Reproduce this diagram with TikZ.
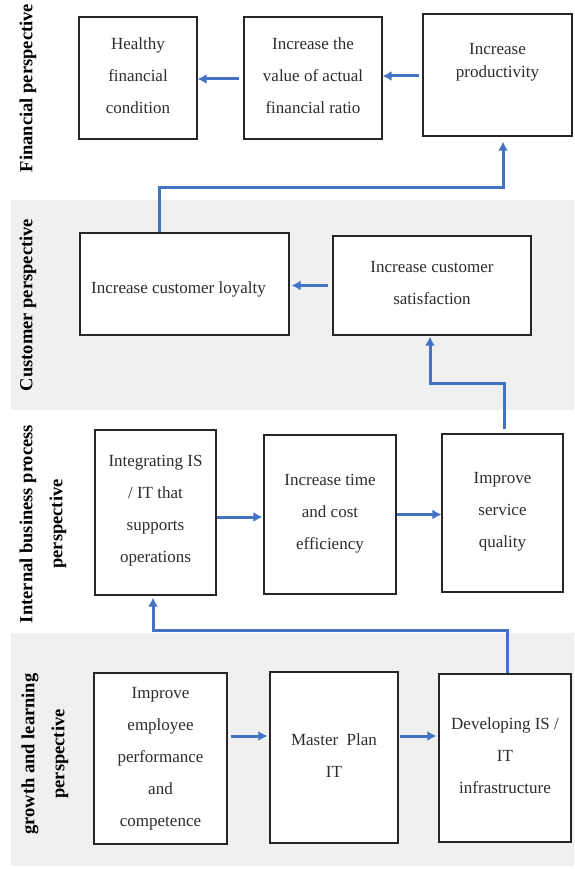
\documentclass[tikz,border=0pt]{standalone}
\usepackage{fontspec}
\setmainfont{Liberation Serif}
\usetikzlibrary{arrows.meta,calc}
\definecolor{arrowblue}{RGB}{68,114,196}
\definecolor{bandgray}{RGB}{240,240,240}
\definecolor{goalink}{RGB}{45,45,45}
\tikzset{
	goal/.style={draw=black!85,line width=1.2pt,fill=white,inner sep=0pt},
	goaltext/.style={align=center,text=goalink,font=\fontsize{17}{32}\selectfont,inner sep=0pt},
	persp/.style={rotate=90,align=center,font=\fontsize{18.5}{30}\selectfont\bfseries,inner sep=0pt},
	link/.style={draw=arrowblue,line width=3pt,-{Latex[length=9pt,width=10pt]}},
}

\begin{document}
\begin{tikzpicture}[x=1pt,y=-1pt]
	\useasboundingbox (0,0) rectangle (574,869);
	% grey bands behind customer and growth rows
	\fill[bandgray] (11,200) rectangle (574,410);
	\fill[bandgray] (11,633) rectangle (574,866);
	
	% perspective labels
	\node[persp] (finlab) at (28,88) {Financial perspective};
	\node[persp] (cuslab) at (28,305) {Customer perspective};
	\node[persp] (intlab) at (43,524) {Internal business process\\perspective};
	\node[persp] (grolab) at (45,754) {growth and learning\\perspective};
	
	% financial row
	\node[goal,minimum width=118pt,minimum height=122pt] (heal) at (138,78) {};
	\node[goaltext] at ([yshift=2pt]heal.center) {Healthy\\financial\\condition};
	\node[goal,minimum width=138pt,minimum height=122pt] (value) at (313,78) {};
	\node[goaltext] at ([yshift=2pt]value.center) {Increase the\\value of actual\\financial ratio};
	\node[goal,minimum width=149pt,minimum height=122pt] (prod) at (497.5,75) {};
	\node[goaltext,font=\fontsize{17}{23}\selectfont] at ([yshift=12.5pt]prod.center) {Increase\\productivity};
	
	% customer row
	\node[goal,minimum width=209pt,minimum height=102pt] (loyal) at (184.5,284) {};
	\node[goaltext] at ([xshift=-6pt,yshift=-5pt]loyal.center) {Increase customer loyalty};
	\node[goal,minimum width=198pt,minimum height=99pt] (satis) at (432,285.5) {};
	\node[goaltext] at ([yshift=2.5pt]satis.center) {Increase customer\\satisfaction};
	
	% internal business process row
	\node[goal,minimum width=121pt,minimum height=165pt] (integ) at (155.5,512.5) {};
	\node[goaltext] at ([yshift=1.5pt]integ.center) {Integrating IS\\/ IT that\\supports\\operations};
	\node[goal,minimum width=132pt,minimum height=159pt] (time) at (330,514.5) {};
	\node[goaltext] at ([yshift=1pt]time.center) {Increase time\\and cost\\efficiency};
	\node[goal,minimum width=121pt,minimum height=158pt] (serv) at (502.5,513) {};
	\node[goaltext] at ([yshift=1.5pt]serv.center) {Improve\\service\\quality};
	
	% growth and learning row
	\node[goal,minimum width=133pt,minimum height=171pt] (empl) at (160.5,758.5) {};
	\node[goaltext] at ([yshift=0pt]empl.center) {Improve\\employee\\performance\\and\\competence};
	\node[goal,minimum width=128pt,minimum height=171pt] (plan) at (334,757.5) {};
	\node[goaltext] at ([yshift=1.5pt]plan.center) {Master~ Plan\\IT};
	\node[goal,minimum width=132pt,minimum height=168pt] (dev) at (505,758) {};
	\node[goaltext] at ([yshift=2pt]dev.center) {Developing IS /\\IT\\infrastructure};
	
	% arrows inside the rows
	\draw[link,shorten <=4pt] ([yshift=-1pt]value.west) -- ([yshift=-1pt]value.west -| heal.east);
	\draw[link,shorten <=3pt] ([yshift=-1pt]prod.west) -- ([yshift=-1pt]prod.west -| value.east);
	\draw[link,shorten <=4pt,shorten >=2pt] (satis.west) -- (satis.west -| loyal.east);
	\draw[link,shorten >=1pt] ([yshift=-4.5pt]integ.east) -- ([yshift=-4.5pt]integ.east -| time.west);
	\draw[link] (time.east) -- (time.east -| serv.west);
	\draw[link,shorten <=3pt,shorten >=2pt] ([yshift=22.5pt]empl.east) -- ([yshift=22.5pt]empl.east -| plan.west);
	\draw[link,shorten <=1pt,shorten >=2pt] ([yshift=21.5pt]plan.east) -- ([yshift=21.5pt]plan.east -| dev.west);
	
	% arrows between the rows
	\coordinate (bendA) at (159,187);
	\coordinate (bendB) at (503,187);
	\draw[link,shorten >=5pt] (bendA |- loyal.north) -- (bendA) -- (bendB) -- (bendB |- prod.south);
	\coordinate (bendC) at (504,383);
	\coordinate (bendD) at (430,383);
	\draw[link,shorten <=4pt,shorten >=1pt] (bendC |- serv.north) -- (bendC) -- (bendD) -- (bendD |- satis.south);
	\coordinate (bendE) at (507,630);
	\coordinate (bendF) at (153,630);
	\draw[link,shorten >=2pt] (bendE |- dev.north) -- (bendE) -- (bendF) -- (bendF |- integ.south);
\end{tikzpicture}
\end{document}
